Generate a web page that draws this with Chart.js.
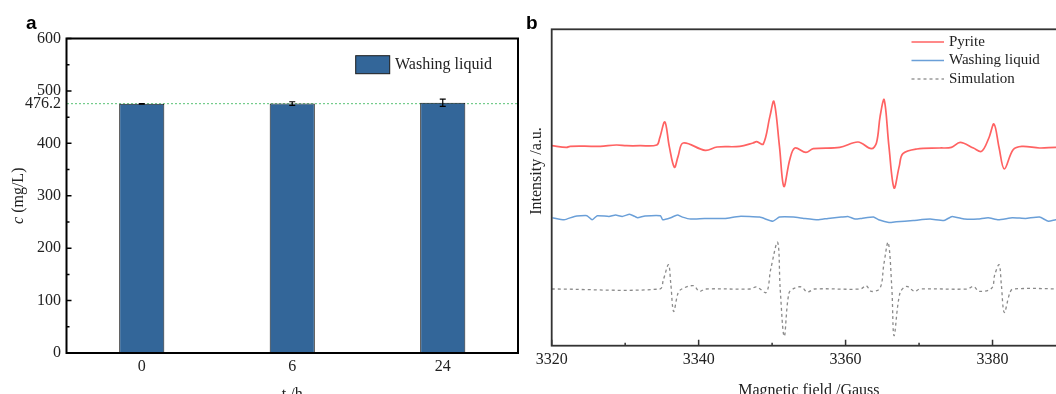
<!DOCTYPE html>
<html><head><meta charset="utf-8">
<script src="https://cdn.jsdelivr.net/npm/chart.js@4.4.1/dist/chart.umd.min.js"></script>
<style>
html,body{margin:0;padding:0;background:#fff;overflow:hidden;width:1056px;height:394px;}
#wa{position:absolute;left:0;top:0;width:530px;height:420px;}
#wb{position:absolute;left:500px;top:0;width:600px;height:420px;}
</style></head><body>
<div id="wa"><canvas id="ca"></canvas></div>
<div id="wb"><canvas id="cb"></canvas></div>
<script>
// ---------- Panel a data ----------
const timeCategories = ['0', '6', '24'];
const washingConc = [475.3, 475.8, 477.5];
const washingErr = [0.6, 3.5, 7];
const yTickLabelsA = [0, 100, 200, 300, 400, 476.2, 500, 600];
const yMajorTicksA = [0, 100, 200, 300, 400, 500, 600];
const yMinorTicksA = [50, 150, 250, 350, 450, 550];
const refLevel = 476.2;

// ---------- Panel b data ----------
const fieldMajorTicks = [3320, 3340, 3360, 3380];
const fieldMinorTicks = [3330, 3350, 3370, 3390];
const pyriteField = [3320.0,3322.0,3322.5,3324.5,3326.6,3328.8,3330.2,3332.0,3334.3,3334.7,3335.4,3336.0,3336.7,3337.2,3337.9,3340.9,3342.5,3345.6,3347.4,3347.9,3348.8,3349.7,3350.25,3351.0,3351.6,3352.4,3353.1,3354.6,3355.6,3359.2,3361.7,3363.5,3364.2,3364.7,3365.25,3365.9,3366.6,3367.3,3367.8,3369.7,3372.8,3374.4,3375.6,3377.4,3378.5,3379.5,3380.2,3380.9,3381.6,3382.8,3384.0,3386.4,3388.6,3390];
const pyriteInt = [200,198.3,199.3,199.5,199.3,200.7,200,200,200.7,207.7,223.7,199.3,178.3,189.3,202.7,195.3,198.7,199.3,202.7,204,201.7,229.3,244.3,199.3,159.3,186,197.7,193.3,197,198.3,203.7,197,202.7,229.3,246,199.3,157.7,179.3,192,196.7,197.7,198.3,203.3,197.7,194.3,207.7,221.7,197.7,176.7,196,199.3,197.7,198.3,198];
const washField = [3320.1,3321.7,3323.1,3324.8,3325.5,3326.2,3327.8,3328.7,3329.6,3330.6,3331.3,3331.7,3332.7,3334.8,3335.1,3336.2,3337.1,3337.8,3338.9,3340.8,3343.6,3345.5,3348.3,3350.1,3351.0,3352.9,3354.3,3356.2,3357.6,3359.4,3360.3,3361.3,3362.2,3363.8,3364.5,3365.9,3366.9,3369.2,3371.5,3373.4,3374.5,3376.2,3378.0,3379.4,3380.8,3382.7,3384.5,3386.4,3387.6,3388.6,3390];
const washInt = [128.0,125.9,129.3,130.0,125.9,130.0,129.3,130.7,129.3,131.4,129.3,128.0,129.7,130.0,125.9,128.0,130.7,128.6,126.6,127.3,127.3,129.3,128.6,124.5,128.6,128.6,127.3,125.9,127.3,128.6,129.3,126.6,127.3,128.6,125.9,123.2,123.9,125.2,126.6,125.2,129.3,126.6,126.6,128.0,125.9,128.0,127.3,128.6,124.5,125.9,126.5];
const simField = [3320,3334.7,3335.2,3335.9,3336.2,3336.6,3337.2,3337.7,3339.3,3340.1,3340.9,3347.0,3347.9,3349.2,3349.8,3350.75,3351.1,3351.65,3352.3,3353.1,3354.0,3354.8,3355.8,3362.0,3362.8,3363.5,3364.7,3365.2,3365.8,3366.3,3366.6,3367.4,3368.3,3369.4,3370.1,3376.6,3377.4,3378.2,3379.9,3380.3,3380.9,3381.2,3381.6,3382.35,3382.8,3390];
const simInt = [56.7,56.7,66,81,62.7,34.3,52.7,56.7,60,54.3,56.7,56.7,58.7,53.3,76,103.3,56.7,9.3,52.7,57.7,58.7,53.7,56.7,56.7,60,54.3,57.7,81,103.3,56.7,10,52.7,59.3,54.3,56.7,56.7,59.3,54.3,57.7,71,81,61,33.3,52.7,56.7,56.7];

const SERIF = "'Liberation Serif','Times New Roman',serif";
const SANS = "'Liberation Sans',Arial,sans-serif";
const TXT = '#222';

function pairs(xs, ys) { return xs.map((g, i) => ({x: g, y: ys[i]})); }

// ---------- Panel a ----------
const panelA = {
  id: 'panelA',
  afterDatasetsDraw(chart) {
    const {ctx, scales: {x, y}} = chart;
    ctx.save();
    ctx.strokeStyle = '#000'; ctx.lineWidth = 1.2;
    washingConc.forEach((v, i) => {
      const px = x.getPixelForValue(i);
      const t = y.getPixelForValue(v + washingErr[i]);
      const b = y.getPixelForValue(v - washingErr[i]);
      ctx.beginPath();
      ctx.moveTo(px, t); ctx.lineTo(px, b);
      ctx.moveTo(px - 3, t); ctx.lineTo(px + 3, t);
      ctx.moveTo(px - 3, b); ctx.lineTo(px + 3, b);
      ctx.stroke();
    });
    ctx.restore();
  },
  afterDraw(chart) {
    const {ctx, chartArea: a, scales: {y}} = chart;
    ctx.save();
    ctx.strokeStyle = '#000'; ctx.lineWidth = 2;
    ctx.strokeRect(a.left, a.top, a.right - a.left, a.bottom - a.top);
    ctx.lineWidth = 1.5;
    ctx.beginPath();
    yMajorTicksA.forEach(v => { const py = y.getPixelForValue(v); ctx.moveTo(a.left, py); ctx.lineTo(a.left + 5, py); });
    yMinorTicksA.forEach(v => { const py = y.getPixelForValue(v); ctx.moveTo(a.left, py); ctx.lineTo(a.left + 3, py); });
    ctx.stroke();
    // legend
    const ds = chart.data.datasets[0];
    ctx.fillStyle = ds.backgroundColor; ctx.fillRect(355.7, 55.7, 34, 18);
    ctx.strokeStyle = '#1c1c1c'; ctx.lineWidth = 1; ctx.strokeRect(355.7, 55.7, 34, 18);
    ctx.fillStyle = TXT; ctx.font = '16px ' + SERIF; ctx.textBaseline = 'middle'; ctx.textAlign = 'left';
    ctx.fillText(ds.label, 395, 65);
    // panel letter
    ctx.font = 'bold 19px ' + SANS; ctx.fillStyle = '#000'; ctx.textBaseline = 'alphabetic';
    ctx.fillText('a', 26, 28.5);
    // y title with italic c
    ctx.translate(18.5, (a.top + a.bottom) / 2); ctx.rotate(-Math.PI / 2);
    ctx.fillStyle = TXT; ctx.textBaseline = 'middle';
    ctx.font = 'italic 16px ' + SERIF; const w1 = ctx.measureText('c').width;
    ctx.font = '16px ' + SERIF; const w2 = ctx.measureText(' (mg/L)').width;
    const s = -(w1 + w2) / 2;
    ctx.font = 'italic 16px ' + SERIF; ctx.fillText('c', s, 0);
    ctx.font = '16px ' + SERIF; ctx.fillText(' (mg/L)', s + w1, 0);
    ctx.restore();
  }
};

new Chart(document.getElementById('ca'), {
  type: 'bar',
  data: {
    labels: timeCategories,
    datasets: [{
      label: 'Washing liquid', data: washingConc,
      backgroundColor: '#336699', borderColor: '#1c1c1c', borderWidth: 1,
      barPercentage: 0.3, categoryPercentage: 1
    }]
  },
  options: {
    responsive: true, maintainAspectRatio: false, animation: false,
    layout: {padding: {left: 0, top: 38.5, right: 12, bottom: 16}},
    plugins: {legend: {display: false}, tooltip: {enabled: false}},
    scales: {
      x: {
        grid: {display: false, drawTicks: false}, border: {display: false},
        ticks: {font: {family: SERIF, size: 16}, color: TXT, padding: 4},
        title: {display: true, text: 't /h', font: {family: SERIF, size: 16}, color: TXT, padding: 0},
        afterFit(s) { s.height = 51; }
      },
      y: {
        min: 0, max: 600,
        afterBuildTicks(s) { s.ticks = yTickLabelsA.map(v => ({value: v})); },
        grid: {drawTicks: false, lineWidth: 1.2,
          color: ctx => (ctx.tick && ctx.tick.value === refLevel) ? '#74cc8c' : 'rgba(0,0,0,0)'},
        border: {display: false, dash: [2, 2]},
        ticks: {autoSkip: false, padding: 5.5, font: {family: SERIF, size: 16}, color: TXT, callback: v => String(v)},
        afterFit(s) { s.width = 66.5; }
      }
    }
  },
  plugins: [panelA]
});

// ---------- Panel b ----------
const panelB = {
  id: 'panelB',
  afterDraw(chart) {
    const {ctx, chartArea: a, scales: {x}} = chart;
    ctx.save();
    ctx.strokeStyle = '#333'; ctx.lineWidth = 1.8;
    ctx.strokeRect(a.left, a.top, a.right - a.left, a.bottom - a.top);
    ctx.lineWidth = 1.5;
    ctx.beginPath();
    fieldMajorTicks.forEach(v => { const px = x.getPixelForValue(v); ctx.moveTo(px, a.bottom); ctx.lineTo(px, a.bottom - 6); });
    fieldMinorTicks.forEach(v => { const px = x.getPixelForValue(v); ctx.moveTo(px, a.bottom); ctx.lineTo(px, a.bottom - 3); });
    ctx.stroke();
    // legend
    const rows = [42, 60.5, 79];
    ctx.font = '15px ' + SERIF; ctx.textBaseline = 'middle'; ctx.textAlign = 'left';
    chart.data.datasets.forEach((ds, i) => {
      ctx.strokeStyle = ds.borderColor; ctx.lineWidth = ds.borderWidth;
      ctx.setLineDash(ds.borderDash || []);
      ctx.beginPath(); ctx.moveTo(411.5, rows[i]); ctx.lineTo(444, rows[i]); ctx.stroke();
      ctx.setLineDash([]);
      ctx.fillStyle = TXT; ctx.fillText(ds.label, 449, rows[i]);
    });
    // panel letter
    ctx.font = 'bold 19px ' + SANS; ctx.fillStyle = '#000'; ctx.textBaseline = 'alphabetic';
    ctx.fillText('b', 26, 29);
    // y title
    ctx.translate(36.7, 171); ctx.rotate(-Math.PI / 2);
    ctx.font = '16px ' + SERIF; ctx.fillStyle = TXT; ctx.textAlign = 'center'; ctx.textBaseline = 'middle';
    ctx.fillText('Intensity /a.u.', 0, 0);
    ctx.restore();
  }
};

new Chart(document.getElementById('cb'), {
  type: 'line',
  data: {
    datasets: [
      {label: 'Pyrite', data: pairs(pyriteField, pyriteInt), borderColor: '#ff6262', borderWidth: 1.7, tension: 0.35},
      {label: 'Washing liquid', data: pairs(washField, washInt), borderColor: '#6a9fd8', borderWidth: 1.5, tension: 0.15},
      {label: 'Simulation', data: pairs(simField, simInt), borderColor: '#8a8a8a', borderWidth: 1.3, borderDash: [3, 3], tension: 0.35}
    ]
  },
  options: {
    responsive: true, maintainAspectRatio: false, animation: false,
    elements: {point: {radius: 0}, line: {fill: false}},
    layout: {padding: {left: 0, top: 29.3, right: 34, bottom: 19.4}},
    plugins: {legend: {display: false}, tooltip: {enabled: false}},
    scales: {
      x: {
        type: 'linear', min: 3320, max: 3390,
        afterBuildTicks(s) { s.ticks = fieldMajorTicks.map(v => ({value: v})); },
        grid: {display: false, drawTicks: false}, border: {display: false},
        ticks: {autoSkip: false, padding: 4.7, font: {family: SERIF, size: 16}, color: TXT, maxRotation: 0, callback: v => String(v)},
        title: {display: true, text: 'Magnetic field /Gauss', font: {family: SERIF, size: 16}, color: TXT, padding: 0},
        afterFit(s) { s.height = 54.9; }
      },
      y: {
        min: 0, max: 316.4,
        grid: {display: false, drawTicks: false}, border: {display: false},
        ticks: {display: false},
        afterFit(s) { s.width = 51.7; }
      }
    }
  },
  plugins: [panelB]
});
</script>
</body></html>
